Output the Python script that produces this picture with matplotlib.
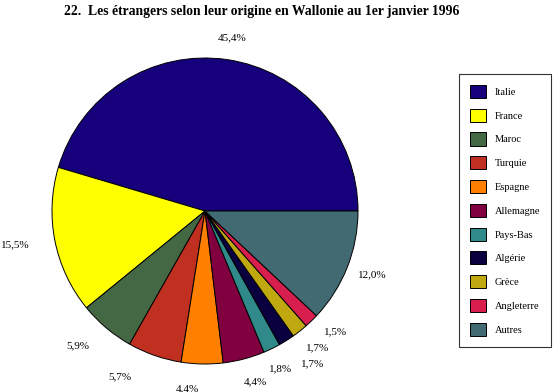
import matplotlib.pyplot as plt
import numpy as np
from matplotlib.patches import Patch

pays = ['Italie', 'France', 'Maroc', 'Turquie', 'Espagne', 'Allemagne',
        'Pays-Bas', 'Algérie', 'Grèce', 'Angleterre', 'Autres']
parts = [45.4, 15.5, 5.9, 5.7, 4.4, 4.4, 1.8, 1.7, 1.7, 1.5, 12.0]
couleurs = ['#16007c', '#ffff00', '#436843', '#c03020', '#ff8000', '#800040',
            '#308a8a', '#0a0040', '#c0a810', '#d81e4c', '#426a72']

# label placement (distance from centre in radii, angle nudge in degrees)
lab_r = [1.145, 1.26, 1.21, 1.22, 1.165, 1.16, 1.14, 1.225, 1.16, 1.16, 1.17]
lab_da = [-0.5, -1.2, -3.3, -7.8, -4.7, 1.6, -0.4, 3.0, 1.0, 3.2, 0.7]

plt.rcParams['font.family'] = ['Liberation Serif', 'DejaVu Serif']

fig = plt.figure(figsize=(5.53, 3.92), dpi=100)
R = 153.0
lim = 1.3
side = 2 * lim * R
cx, cy = 205.0, 392 - 211.0
ax = fig.add_axes([(cx - lim * R) / 553, (cy - lim * R) / 392, side / 553, side / 392])

wedges, _ = ax.pie(parts, colors=couleurs, startangle=0, counterclock=True,
                   wedgeprops=dict(edgecolor='black', linewidth=0.7))
ax.set_xlim(-lim, lim)
ax.set_ylim(-lim, lim)
ax.axis('off')

for w, p, r, da in zip(wedges, parts, lab_r, lab_da):
    ang = np.deg2rad((w.theta1 + w.theta2) / 2 + da)
    txt = ('%.1f' % p).replace('.', ',') + '%'
    ax.text(r * np.cos(ang), r * np.sin(ang), txt, ha='center', va='center',
            fontsize=8)

fig.text(262 / 553, 1 - 11 / 392,
         '22.  Les étrangers selon leur origine en Wallonie au 1er janvier 1996',
         ha='center', va='center', fontsize=9.8, fontweight='bold')

handles = [Patch(facecolor=c, edgecolor='black', linewidth=0.7) for c in couleurs]
leg = fig.legend(handles, pays, loc='upper left',
                 bbox_to_anchor=(459 / 553, 1 - 74 / 392), borderaxespad=0,
                 fontsize=7.5, frameon=True, fancybox=False, edgecolor='black',
                 handlelength=1.55, handleheight=1.55, labelspacing=1.03,
                 handletextpad=0.85, borderpad=1.05)
leg.get_frame().set_linewidth(0.8)

fig.savefig('out.png', dpi=100)
